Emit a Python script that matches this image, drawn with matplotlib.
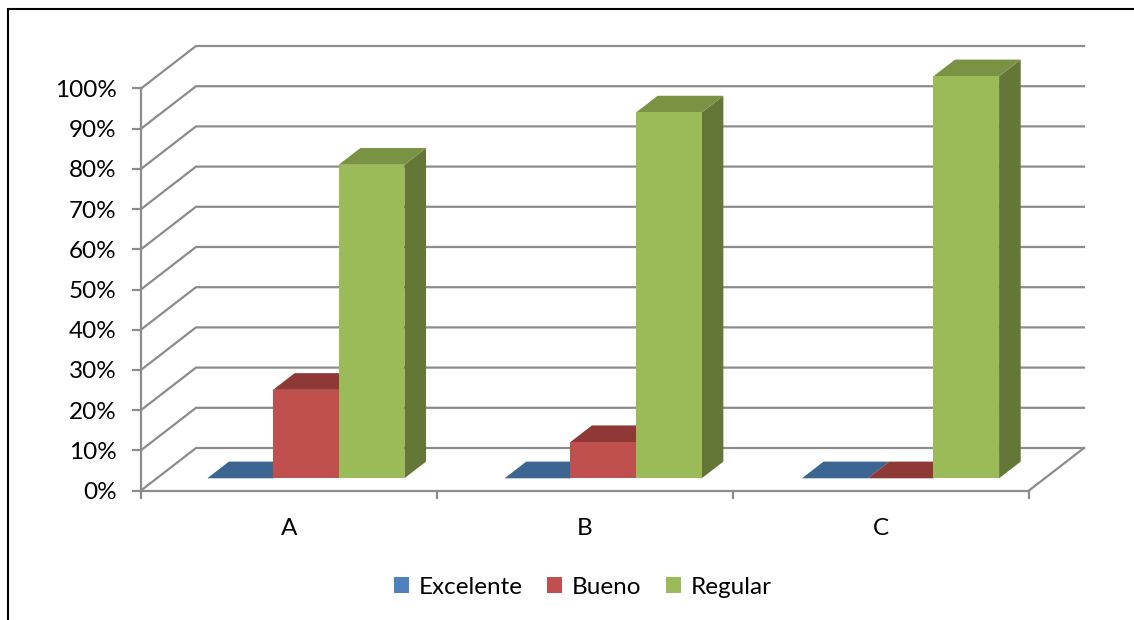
import matplotlib
matplotlib.use('Agg')
import matplotlib.pyplot as plt
from matplotlib.lines import Line2D
from matplotlib.patches import Patch, Polygon

categories = ['A', 'B', 'C']
series_names = ['Excelente', 'Bueno', 'Regular']
excelente = [0, 0, 0]
bueno = [22, 9, 0]
regular = [78, 91, 100]
y_ticks = [0, 10, 20, 30, 40, 50, 60, 70, 80, 90, 100]

front_colors = ['#4F81BD', '#C0504D', '#9BBB59']
top_colors = ['#3C6592', '#8F3937', '#7A9243']
side_colors = ['#335578', '#773030', '#657736']
grid_color = '#8C8C8C'

W, H = 1134, 620
LEFT, RIGHT, BOTTOM, TOP = 141, 1029, 490.5, 88.5
FONT_SIZE = 17.5

# oblique depth of the box, in data units per unit of depth
DEPTH_X = 55 / 296
DEPTH_Y = 42.5 / 4.02
BAR_WIDTH = 0.222
BAR_MARGIN = 0.1706
BAR_PITCH = 1.0045
BAR_FRONT = 0.287
BAR_BACK = 0.68


def project(x, y, depth):
    return x + depth * DEPTH_X, y + depth * DEPTH_Y


def draw_walls(ax):
    x_end = len(categories)
    lw = 1.6
    for t in y_ticks:
        x0, y0 = project(0, t, 0)
        x1, y1 = project(0, t, 1)
        x2, y2 = project(x_end, t, 1)
        ax.plot([x0, x1, x2], [y0, y1, y2], color=grid_color, lw=lw, clip_on=False, zorder=1,
                solid_joinstyle='miter')
    # right edge of the floor
    x0, y0 = project(x_end, 0, 0)
    x1, y1 = project(x_end, 0, 1)
    ax.plot([x0, x1], [y0, y1], color=grid_color, lw=lw, clip_on=False, zorder=1)


def draw_bar(ax, x, value, i):
    x2 = x + BAR_WIDTH
    front = [project(x, 0, BAR_FRONT), project(x2, 0, BAR_FRONT),
             project(x2, value, BAR_FRONT), project(x, value, BAR_FRONT)]
    top = [project(x, value, BAR_FRONT), project(x2, value, BAR_FRONT),
           project(x2, value, BAR_BACK), project(x, value, BAR_BACK)]
    side = [project(x2, 0, BAR_FRONT), project(x2, 0, BAR_BACK),
            project(x2, value, BAR_BACK), project(x2, value, BAR_FRONT)]
    z = 3 + i
    ax.add_patch(Polygon(side, fc=side_colors[i], ec='none', clip_on=False, zorder=z))
    ax.add_patch(Polygon(top, fc=top_colors[i], ec='none', clip_on=False, zorder=z))
    ax.add_patch(Polygon(front, fc=front_colors[i], ec='none', clip_on=False, zorder=z))


def main():
    plt.rcParams['font.family'] = ['Lato', 'DejaVu Sans']
    fig = plt.figure(figsize=(W / 100, H / 100), dpi=100, facecolor='white')
    ax = fig.add_axes([LEFT / W, 1 - BOTTOM / H, (RIGHT - LEFT) / W, (BOTTOM - TOP) / H])
    ax.set_xlim(0, len(categories))
    ax.set_ylim(0, 100)
    ax.patch.set_alpha(0)

    for name in ['top', 'right']:
        ax.spines[name].set_visible(False)
    for name in ['left', 'bottom']:
        ax.spines[name].set_color(grid_color)
        ax.spines[name].set_linewidth(1.6)

    ax.set_yticks(y_ticks)
    ax.set_yticklabels([f'{t}%' for t in y_ticks])
    ax.set_xticks(range(len(categories) + 1))
    ax.set_xticklabels([])
    ax.set_xticks([i + 0.5 for i in range(len(categories))], minor=True)
    ax.set_xticklabels(categories, minor=True)
    ax.tick_params(axis='y', length=6.5, width=1.6, color=grid_color, pad=11, labelsize=FONT_SIZE)
    ax.tick_params(axis='x', which='major', length=6, width=1.6, color=grid_color)
    ax.tick_params(axis='x', which='minor', length=0, pad=19.5, labelsize=FONT_SIZE)

    draw_walls(ax)

    all_series = [excelente, bueno, regular]
    for c in range(len(categories)):
        for i, values in enumerate(all_series):
            draw_bar(ax, c * BAR_PITCH + BAR_MARGIN + i * BAR_WIDTH, values[c], i)

    handles = [Patch(fc=col, ec='none') for col in front_colors]
    fig.legend(handles, series_names, ncol=3, loc='center', bbox_to_anchor=(583 / W, 1 - 587 / H),
               frameon=False, fontsize=FONT_SIZE, handlelength=0.62, handleheight=0.62,
               handletextpad=0.4, columnspacing=1.0)

    # black frame along the left and top, running off the canvas
    frame_x = [7.5 / W, 7.5 / W, 1]
    frame_y = [0, 1 - 9 / H, 1 - 9 / H]
    fig.add_artist(Line2D(frame_x, frame_y, color='black', lw=1.5, solid_joinstyle='miter'))

    fig.savefig('out.png', dpi=100)


if __name__ == "__main__":
    main()
